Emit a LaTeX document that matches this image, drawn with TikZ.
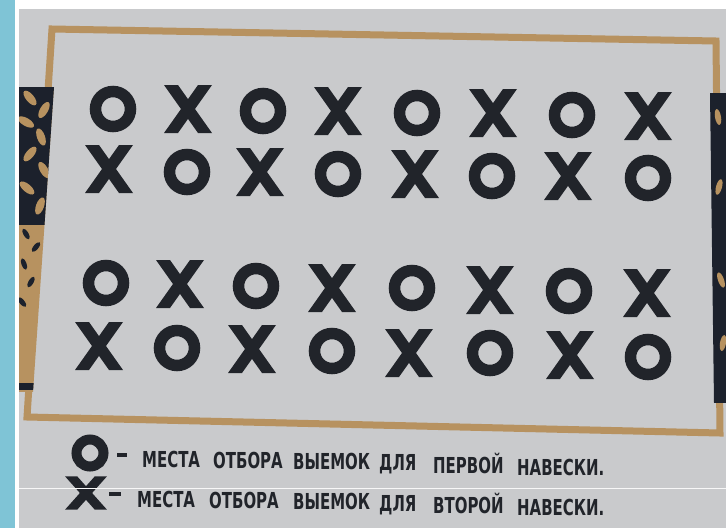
\documentclass[tikz,border=0pt]{standalone}
\usepackage{fontspec}
\newfontfamily\legendfont{DejaVu Sans}[FakeStretch=0.68]

\definecolor{skyblue}{RGB}{127,196,214}
\definecolor{paper}{RGB}{201,202,204}
\definecolor{tan}{RGB}{183,146,96}
\definecolor{ink}{RGB}{33,36,42}
\definecolor{navy}{RGB}{28,33,44}

\begin{document}
\begin{tikzpicture}[
    x=1pt, y=-1pt,
    ringmark/.pic={\draw[ink, line width=11.5pt] (0,0) circle (17.5);},
    crossmark/.pic={
        \fill[ink] (-24,-24) -- (-10,-24) -- (24,24) -- (10,24) -- cycle;
        \fill[ink] (10,-24) -- (24,-24) -- (-10,24) -- (-24,24) -- cycle;
    },
    word/.style={anchor=base west, inner sep=0pt, text=ink,
        font=\legendfont\bfseries\fontsize{22pt}{22pt}\selectfont},
    legenddash/.style={draw=ink, line width=3.5pt},
    leaf/.style={fill=tan},
    speck/.style={fill=navy}
]

\useasboundingbox (0,0) rectangle (726,528);

% =================== PHOTO BACKGROUND ===================
\fill[white] (0,0) rectangle (726,528);
\fill[skyblue] (0,0) rectangle (15,528);
\fill[paper] (19,9) rectangle (726,528);

% =================== FRAME ===================
\draw[tan, line width=7pt, line join=miter]
    (52,29) -- (716,41) -- (720,433) -- (27,417) -- cycle;

% =================== SIDE ORNAMENTS ===================
\begin{scope}
    \clip (19,87) -- (54,87) -- (33,392) -- (19,392) -- cycle;
    \fill[tan] (19,87) rectangle (60,392);
    \fill[navy] (19,87) rectangle (60,225);
    \foreach \lx/\ly/\ang in {30/98/40, 44/110/-30, 26/122/60, 41/137/20,
                              30/154/-40, 44/170/30, 27/188/50, 40/206/-20}
        \fill[leaf, rotate around={\ang:(\lx,\ly)}] (\lx,\ly) ellipse (4 and 9);
    \foreach \lx/\ly/\ang in {26/234/30, 36/247/-40, 24/264/20, 31/282/-30, 22/302/40}
        \fill[speck, rotate around={\ang:(\lx,\ly)}] (\lx,\ly) ellipse (2.5 and 6);
    \fill[navy] (19,383) rectangle (40,390);
\end{scope}

\begin{scope}
    \clip (710,93) -- (726,93) -- (726,403) -- (714,403) -- cycle;
    \fill[navy] (705,93) rectangle (726,403);
    \foreach \lx/\ly/\ang in {718/117/10, 719/187/-15, 721/280/20, 723/343/-10}
        \fill[leaf, rotate around={\ang:(\lx,\ly)}] (\lx,\ly) ellipse (3 and 8);
\end{scope}

% =================== SAMPLING MARKS ===================
\foreach \px/\py [count=\i] in {113/109, 263/111, 417/113, 572/115,
                                187/172, 338/174, 492/176, 648/178,
                                106/283, 256/286, 412/288, 569/291,
                                177/348, 332/351, 490/353, 648/357}
    \pic (ring\i) at (\px,\py) {ringmark};

\foreach \px/\py [count=\i] in {188/109, 338/111, 493/113, 648/116,
                                109/169, 260/172, 415/174, 568/176,
                                180/284, 332/288, 490/290, 647/293,
                                 99/346, 252/349, 409/353, 570/355}
    \pic (cross\i) at (\px,\py) {crossmark};

% =================== LEGEND ===================
\draw[ink, line width=10pt] (90,453) circle (13.5);
\pic[xscale=0.87, yscale=0.69] (keycross) at (86,493) {crossmark};

\draw[legenddash] (117,455) -- (127,455);
\draw[legenddash] (109,494) -- (121,494);

\foreach \px/\py/\txt [count=\i] in {142/467/МЕСТА, 213/468/ОТБОРА, 293/469/ВЫЕМОК,
                                     379/470/ДЛЯ, 433/473/ПЕРВОЙ, 517/475/НАВЕСКИ.}
    \node[word] (first\i) at (\px,\py) {\txt};

\foreach \px/\py/\txt [count=\i] in {137/507/МЕСТА, 209/508/ОТБОРА, 293/509/ВЫЕМОК,
                                     379/511/ДЛЯ, 433/513/ВТОРОЙ, 517/515/НАВЕСКИ.}
    \node[word] (second\i) at (\px,\py) {\txt};

% photo scratch
\draw[white!85!paper, line width=0.8pt] (19,488) -- (726,488);

\end{tikzpicture}
\end{document}
